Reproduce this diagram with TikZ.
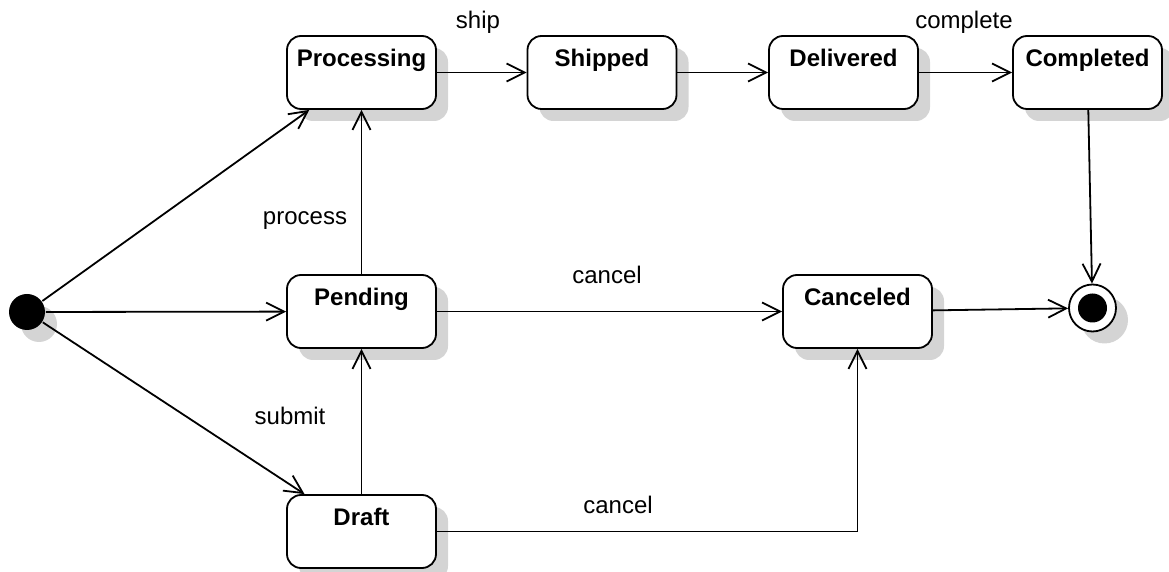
\documentclass[tikz,border=0pt]{standalone}
\usepackage{fontspec}
\setmainfont{Liberation Sans}
\usetikzlibrary{arrows.meta,shadows}

\begin{document}
\begin{tikzpicture}[x=0.5pt,y=-0.5pt,line width=0.9pt,font=\fontsize{12}{14}\selectfont,
	shd/.style={general shadow={fill=black!17,draw=none,shadow xshift=6pt,shadow yshift=-6pt}},
	state/.style={rectangle,rounded corners=7pt,draw,fill=white,minimum width=74.5pt,inner ysep=0pt,
		text height=15.5pt,text depth=21pt,font=\fontsize{12}{14}\selectfont\bfseries,shd},
	tr/.style={-{Straight Barb[length=9pt,width=9pt]}}]
	\useasboundingbox (0,0) rectangle (1169,572);
	\node (init) at (27,312) [circle,fill=black,minimum size=18pt,inner sep=0pt,shd] {};
	\node (proc) at (361.5,72.5) [state] {Processing};
	\node (ship) at (602,72.5) [state] {Shipped};
	\node (deliv) at (843.5,72.5) [state] {Delivered};
	\node (compl) at (1087.5,72.5) [state] {Completed};
	\node (pend) at (361.5,311.5) [state] {Pending};
	\node (canc) at (857.5,311.5) [state] {Canceled};
	\node (draft) at (361.5,531.5) [state] {Draft};
	\node (fin) at (1092.5,308) [circle,draw,fill=white,minimum size=23.5pt,inner sep=0pt,shd] {};
	\node (finin) at (fin) [circle,fill=black,minimum size=14.5pt,inner sep=0pt] {};
	\draw [tr] (init) -- (proc);
	\draw [tr] (init) -- (pend);
	\draw [tr] (init) -- (draft);
	\draw [tr] (draft) -- (pend);
	\draw [tr] (pend) -- (proc);
	\draw [tr] (proc) -- (ship);
	\draw [tr] (ship) -- (deliv);
	\draw [tr] (deliv) -- (compl);
	\draw [tr] (compl) -- (fin);
	\draw [tr] (pend) -- (canc);
	\draw [tr] (canc) -- (fin);
	\draw [tr] (draft) -| (canc);
	% transition labels
	\node (lship) at (478,22) {ship};
	\node (lcompl) at (964,22) {complete};
	\node (lproc) at (305,221) {process};
	\node (lsub) at (290,416) {submit};
	\node (lcanc) at (607,275) {cancel};
	\node (lcancd) at (618,505) {cancel};
\end{tikzpicture}
\end{document}
